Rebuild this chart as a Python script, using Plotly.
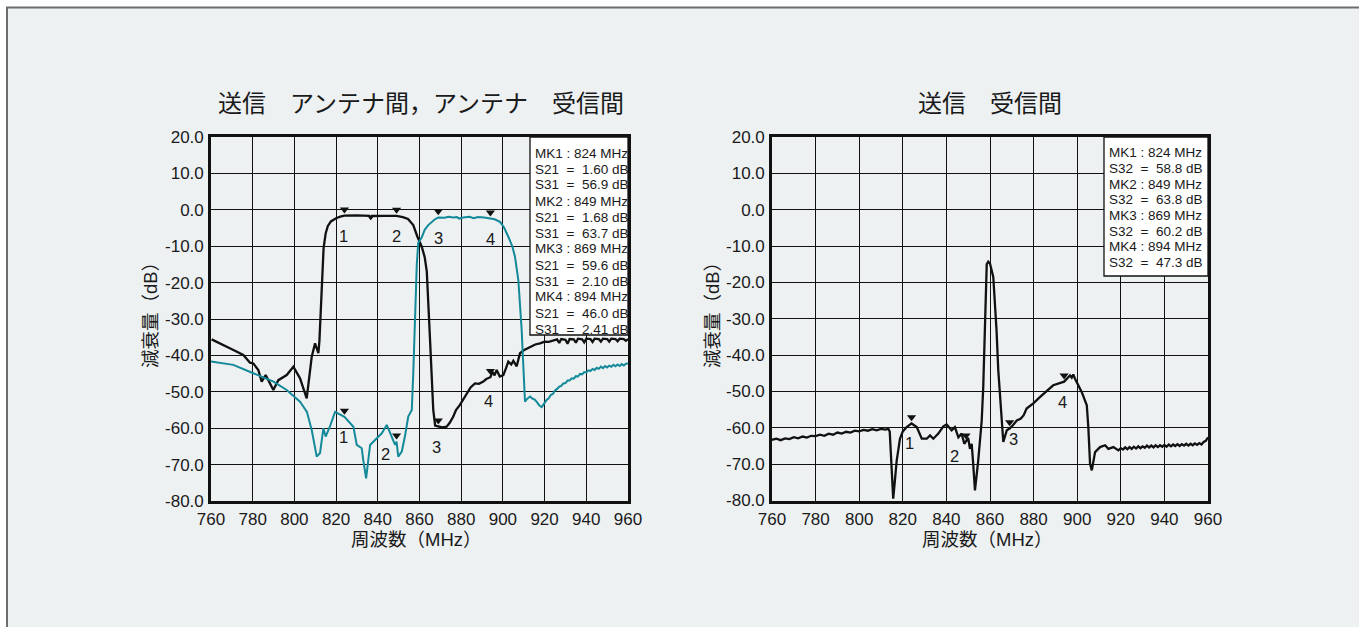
import plotly.graph_objects as go

# ---------------- data ----------------
# Left panel: S21 (transmit -> antenna) and S31 (antenna -> receive), attenuation in dB
s21_freq = [760.3, 765, 770, 775.5, 778.7, 780.3, 782.7, 784.3, 786.2, 787.5, 789.9, 792.3,
            793.9, 796.3, 799.5, 802.7, 805.9, 808.3, 809.9, 811.5, 812.0, 812.5, 813.0, 813.5,
            814.0, 815.0, 816.0, 817.5, 820.0, 822.0, 824.0, 830.0, 836.0, 836.6, 837.2, 843.0,
            849.0, 852.0, 854.5, 857.0, 859.0, 861.0, 862.5, 863.5, 864.3, 865.0, 865.8, 866.6,
            867.5, 869.0, 871.0, 873.0, 874.5, 876.2, 877.5, 879.4, 881.0, 882.6, 884.5, 886.6,
            888.5, 890.6, 892.0, 894.0, 895.0, 896.0, 897.0, 898.5, 900.2, 901.5, 902.6, 904.0,
            905.0, 906.6, 908.2, 910.0, 913.0, 915.5, 917.8, 920.0, 922.0, 924.0, 926.0, 927.0,
            928.0, 930.0, 931.0, 932.0, 934.0, 935.0, 936.0, 938.0, 939.0, 940.0, 942.0, 943.0,
            944.0, 946.0, 947.0, 948.0, 950.0, 951.0, 952.0, 954.0, 955.0, 956.0, 958.0, 959.0,
            960.0]
s21_db = [-35.6, -36.8, -38.3, -39.9, -42.0, -42.2, -44.0, -47.2, -45.4, -46.8, -49.5, -46.8,
          -46.3, -45.4, -43.1, -46.3, -51.8, -40.4, -36.7, -39.4, -36.0, -30.0, -22.0, -15.0,
          -10.5, -6.5, -4.5, -3.2, -2.3, -1.9, -1.60, -1.55, -1.65, -2.2, -1.7, -1.65,
          -1.68, -2.0, -2.5, -4.2, -7.4, -10.0, -13.0, -17.0, -25.0, -35.0, -45.0, -55.0,
          -59.3, -59.6, -59.8, -59.6, -58.5, -56.8, -55.0, -53.6, -52.0, -50.4, -48.8, -47.7,
          -47.8, -47.2, -46.5, -46.0, -44.5, -45.5, -44.0, -45.8, -45.4, -43.5, -41.7, -42.5,
          -41.5, -43.0, -39.4, -38.6, -37.6, -37.0, -36.7, -36.2, -36.3, -35.9, -35.6, -36.6,
          -35.5, -35.7, -36.8, -35.5, -35.6, -36.5, -35.4, -35.6, -36.4, -35.4, -35.5, -36.3,
          -35.4, -35.5, -36.2, -35.4, -35.5, -36.2, -35.4, -35.5, -36.1, -35.4, -35.5, -36.0,
          -35.5]

s31_freq = [760.0, 770.7, 780.3, 790.0, 796.3, 802.7, 806.0, 808.3, 810.7, 812.3, 813.9, 815.0,
            817.0, 819.5, 824.0, 828.3, 829.9, 832.3, 833.0, 834.4, 836.3, 838.7, 841.9, 844.3,
            846.7, 848.3, 849.0, 849.8, 851.5, 853.0, 854.6, 856.3, 857.0, 857.8, 858.7, 859.4,
            861.0, 862.5, 864.2, 867.4, 869.0, 872.0, 874.0, 876.2, 878.0, 879.0, 881.0, 884.0,
            886.0, 888.0, 891.0, 894.0, 896.0, 898.6, 900.5, 902.6, 904.5, 905.8, 907.4, 909.0,
            910.0, 910.6, 911.5, 913.0, 914.0, 915.4, 916.5, 917.5, 918.6, 919.5, 920.3, 921.0,
            922.0, 923.0, 924.0, 925.0, 926.0, 927.0, 928.0, 929.0, 930.0, 931.0, 932.0, 933.0,
            934.0, 935.0, 936.0, 937.0, 938.0, 939.0, 940.0, 941.0, 942.0, 943.0, 944.0, 945.0,
            946.0, 947.0, 948.0, 949.0, 950.0, 951.0, 952.0, 953.0, 954.0, 955.0, 956.0, 957.0,
            958.0, 959.0, 960.0]
s31_db = [-41.7, -42.6, -44.9, -47.2, -49.5, -52.7, -55.5, -60.5, -67.8, -66.8, -60.0, -62.3,
          -59.6, -55.5, -56.9, -59.6, -64.6, -65.5, -68.7, -73.8, -64.6, -63.2, -61.4, -59.1,
          -62.3, -64.6, -63.7, -67.8, -66.4, -62.3, -56.8, -55.0, -45.0, -30.0, -15.0, -9.1,
          -7.7, -5.5, -4.2, -2.6, -2.10, -2.2, -1.9, -2.1, -2.0, -2.4, -2.1, -1.9,
          -2.3, -2.0, -2.1, -2.41, -2.6, -3.3, -4.8, -7.4, -10.0, -12.9, -19.3, -33.0,
          -45.0, -52.7, -52.0, -51.3, -51.8, -52.2, -53.0, -53.8, -54.2, -53.3, -52.6, -52.2,
          -51.8, -50.8, -50.6, -49.6, -49.2, -48.6, -48.4, -47.7, -47.6, -46.9, -46.9, -46.3,
          -46.4, -45.7, -45.8, -45.1, -45.2, -44.6, -44.7, -44.1, -44.3, -43.7, -44.0, -43.4,
          -43.7, -43.1, -43.5, -42.9, -43.3, -42.8, -43.1, -42.6, -43.0, -42.5, -42.9, -42.4,
          -42.8, -42.3, -42.2]

# Right panel: S32 (transmit -> receive)
s32_freq = [760, 762, 764, 766, 768, 770, 772, 774, 776, 778, 780, 782, 784, 786, 788, 790,
            792, 794, 796, 798, 800, 802, 804, 806, 808, 810, 812, 813.4, 814.0, 814.8, 815.6,
            816.3, 817.2, 818.7, 820.0, 821.8, 824.0, 826.4, 828.7, 831.0, 832.5, 834.0, 836.3,
            838.6, 840.1, 842.4, 843.9, 845.5, 847.0, 848.2, 849.0, 850.0, 850.8, 851.6, 852.3,
            853.1, 854.6, 856.2, 856.9, 857.5, 858.0, 858.5, 859.2, 860.0, 861.5, 862.3, 863.0,
            863.8, 865.4, 866.1, 867.7, 869.0, 870.5, 872.3, 874.0, 875.4, 876.8, 880.0, 883.0,
            886.0, 889.0, 894.0, 896.7, 897.5, 898.2, 899.0, 902.1, 904.4, 905.1, 905.9, 906.7,
            908.2, 910.5, 912.8, 914.3, 916.6, 918.9, 920, 921, 922, 923, 924, 925, 926, 927,
            928, 929, 930, 931, 932, 933, 934, 935, 936, 937, 938, 939, 940, 941, 942, 943, 944,
            945, 946, 947, 948, 949, 950, 951, 952, 953, 954, 955, 956, 957, 958, 959, 960]
s32_db = [-63.3, -63.0, -63.4, -62.9, -63.1, -62.6, -62.9, -62.4, -62.7, -62.2, -62.3, -61.9,
          -62.2, -61.6, -61.9, -61.3, -61.6, -61.1, -61.3, -60.8, -61.0, -60.6, -60.8, -60.4,
          -60.7, -60.3, -60.5, -60.3, -61.0, -70.0, -79.5, -75.0, -69.0, -63.0, -61.0, -59.8,
          -58.8, -59.8, -63.0, -63.0, -62.1, -63.0, -61.6, -59.6, -59.1, -60.7, -59.8, -62.6,
          -61.6, -64.4, -63.8, -62.8, -65.8, -64.4, -70.0, -77.2, -69.0, -58.0, -48.8, -33.0,
          -20.3, -15.0, -14.3, -14.8, -18.5, -25.0, -33.2, -44.2, -58.0, -63.9, -60.7, -60.2,
          -59.3, -58.0, -57.5, -56.6, -54.7, -53.2, -51.5, -49.9, -48.3, -47.3, -45.6, -46.2,
          -45.3, -46.5, -50.2, -53.8, -59.8, -69.9, -71.7, -66.7, -65.3, -64.8, -65.8, -65.3,
          -66.2, -65.6, -66.0, -65.4, -65.9, -65.3, -65.8, -65.2, -65.7, -65.1, -65.6, -65.1,
          -65.5, -64.9, -65.4, -64.9, -65.4, -64.8, -65.3, -64.8, -65.2, -64.7, -65.2, -64.6,
          -65.1, -64.6, -65.0, -64.5, -65.0, -64.5, -64.9, -64.4, -64.9, -64.4, -64.8, -64.3,
          -64.7, -64.2, -64.6, -63.9, -63.6, -62.6]

# Marker readouts (frequency in MHz, attenuation in dB)
mk_freq = [824, 849, 869, 894]
mk_s21 = [1.60, 1.68, 59.6, 46.0]
mk_s31 = [56.9, 63.7, 2.10, 2.41]
mk_s32 = [58.8, 63.8, 60.2, 47.3]
ref_mark_freq = [836.6]
ref_mark_db = [-2.2]

x_ticks = [760, 780, 800, 820, 840, 860, 880, 900, 920, 940, 960]
y_ticks = [20, 10, 0, -10, -20, -30, -40, -50, -60, -70, -80]
y_tick_text = ["20.0", "10.0", "0.0", "-10.0", "-20.0", "-30.0", "-40.0",
               "-50.0", "-60.0", "-70.0", "-80.0"]

title_left = "送信　アンテナ間，アンテナ　受信間"
title_right = "送信　受信間"
x_title = "周波数（MHz）"
y_title = "減衰量（dB）"

# ---------------- styles ----------------
W, H = 1359, 627
FONT = "Liberation Sans, Arial, Noto Sans CJK JP, sans-serif"
TXT = "#1a1a1a"
BLACK = "#111111"
TEAL = "#13899a"
PANEL_BG = "#edf1f2"
TRI_OFFSET = 1.7  # dB above the trace


def fx(p):
    return p / W


def fy(p):
    return 1 - p / H


# label shifts (px) for marker numbers: (xshift, yshift)
left_top_shift = {"s21": [(-1, -20), (0, -20)], "s31": [(0, -21), (0, -20)]}
left_bot_shift = {"s31": [(-1, -20), (-11, -12)], "s21": [(-2, -20), (-2, -24)]}
right_shift = [(-2, -20), (-12, -14), (4, -10), (-2, -20)]

fig = go.Figure()

# traces
fig.add_trace(go.Scatter(x=s21_freq, y=s21_db, mode="lines", xaxis="x", yaxis="y",
                         line=dict(color=BLACK, width=2.3), hoverinfo="skip"))
fig.add_trace(go.Scatter(x=s31_freq, y=s31_db, mode="lines", xaxis="x", yaxis="y",
                         line=dict(color=TEAL, width=2.0), hoverinfo="skip"))
fig.add_trace(go.Scatter(x=s32_freq, y=s32_db, mode="lines", xaxis="x2", yaxis="y2",
                         line=dict(color=BLACK, width=2.3), hoverinfo="skip"))

# marker triangles
left_tri_x = mk_freq[:2] + mk_freq[2:] + mk_freq[:2] + mk_freq[2:]
left_tri_y = ([-v + TRI_OFFSET for v in mk_s21[:2]] + [-v + TRI_OFFSET for v in mk_s31[2:]]
              + [-v + TRI_OFFSET for v in mk_s31[:2]] + [-v + TRI_OFFSET for v in mk_s21[2:]])
fig.add_trace(go.Scatter(x=left_tri_x, y=left_tri_y, mode="markers", xaxis="x", yaxis="y",
                         marker=dict(symbol="triangle-down", size=8, color=BLACK),
                         hoverinfo="skip"))
fig.add_trace(go.Scatter(x=ref_mark_freq, y=ref_mark_db, mode="markers", xaxis="x", yaxis="y",
                         marker=dict(symbol="triangle-down", size=5, color=BLACK),
                         hoverinfo="skip"))
fig.add_trace(go.Scatter(x=mk_freq, y=[-v + TRI_OFFSET for v in mk_s32], mode="markers",
                         xaxis="x2", yaxis="y2",
                         marker=dict(symbol="triangle-down", size=8, color=BLACK),
                         hoverinfo="skip"))

annotations = []


def num_label(xref, yref, x, y, n, shift):
    annotations.append(dict(x=x, y=y, xref=xref, yref=yref, text=str(n), showarrow=False,
                            xanchor="center", yanchor="middle", xshift=shift[0],
                            yshift=shift[1], font=dict(family=FONT, size=16.5, color=TXT)))


for i in range(2):
    num_label("x", "y", mk_freq[i], -mk_s21[i], i + 1, left_top_shift["s21"][i])
    num_label("x", "y", mk_freq[i], -mk_s31[i], i + 1, left_bot_shift["s31"][i])
for i in range(2, 4):
    num_label("x", "y", mk_freq[i], -mk_s31[i], i + 1, left_top_shift["s31"][i - 2])
    num_label("x", "y", mk_freq[i], -mk_s21[i], i + 1, left_bot_shift["s21"][i - 2])
for i in range(4):
    num_label("x2", "y2", mk_freq[i], -mk_s32[i], i + 1, right_shift[i])

# readout boxes
left_lines = []
right_lines = []
for i, f in enumerate(mk_freq):
    left_lines += [f"MK{i + 1} : {f} MHz", f"S21  =  {mk_s21[i]:.2f} dB" if mk_s21[i] < 10
                   else f"S21  =  {mk_s21[i]:.1f} dB",
                   f"S31  =  {mk_s31[i]:.2f} dB" if mk_s31[i] < 10
                   else f"S31  =  {mk_s31[i]:.1f} dB"]
    right_lines += [f"MK{i + 1} : {f} MHz", f"S32  =  {mk_s32[i]:.1f} dB"]

shapes = [
    # page panel
    dict(type="rect", xref="paper", yref="paper", x0=fx(7), x1=fx(W + 20), y0=fy(H + 20),
         y1=fy(7.5), fillcolor=PANEL_BG, line=dict(color="#6d6d6d", width=2), layer="below"),
    dict(type="rect", xref="paper", yref="paper", x0=fx(530), x1=fx(628), y0=fy(335),
         y1=fy(137), fillcolor="white", line=dict(color=BLACK, width=1.3), layer="above"),
    dict(type="rect", xref="paper", yref="paper", x0=fx(1104), x1=fx(1208), y0=fy(276),
         y1=fy(137), fillcolor="white", line=dict(color=BLACK, width=1.3), layer="above"),
]

for k, t in enumerate(left_lines):
    annotations.append(dict(x=fx(532.5), y=fy(153 + 16 * k), xref="paper", yref="paper",
                            text=t, showarrow=False, xanchor="left", yanchor="middle",
                            font=dict(family=FONT, size=13.5, color=TXT)))
for k, t in enumerate(right_lines):
    annotations.append(dict(x=fx(1106.5), y=fy(152.7 + 15.7 * k), xref="paper", yref="paper",
                            text=t, showarrow=False, xanchor="left", yanchor="middle",
                            font=dict(family=FONT, size=13.5, color=TXT)))

# titles and axis titles
for cx, ttl in [(421, title_left), (990, title_right)]:
    annotations.append(dict(x=fx(cx), y=fy(103), xref="paper", yref="paper", text=ttl,
                            showarrow=False, xanchor="center", yanchor="middle",
                            font=dict(family=FONT, size=24, color=TXT)))
for cx in [416, 987]:
    annotations.append(dict(x=fx(cx), y=fy(539), xref="paper", yref="paper", text=x_title,
                            showarrow=False, xanchor="center", yanchor="middle",
                            font=dict(family=FONT, size=18.5, color=TXT)))
for cx in [150, 712]:
    annotations.append(dict(x=fx(cx), y=fy(311), xref="paper", yref="paper", text=y_title,
                            showarrow=False, xanchor="center", yanchor="middle",
                            textangle=-90, font=dict(family=FONT, size=18.5, color=TXT)))

axis_common = dict(showgrid=True, gridcolor=BLACK, gridwidth=1.4, zeroline=False,
                   showline=True, linecolor=BLACK, linewidth=2.6, mirror=True, ticks="",
                   tickfont=dict(family=FONT, size=17, color=TXT), fixedrange=True)

fig.update_layout(
    width=W, height=H,
    margin=dict(l=0, r=0, t=0, b=0, autoexpand=False),
    paper_bgcolor="white", plot_bgcolor="white",
    showlegend=False,
    xaxis=dict(domain=[fx(211), fx(628)], range=[760, 960], tickvals=x_ticks,
               anchor="y", ticklabelstandoff=1, **axis_common),
    yaxis=dict(domain=[fy(501), fy(137)], range=[-80, 20], tickvals=y_ticks,
               ticktext=y_tick_text, anchor="x", ticklabelstandoff=1, **axis_common),
    xaxis2=dict(domain=[fx(772), fx(1208)], range=[760, 960], tickvals=x_ticks,
                anchor="y2", ticklabelstandoff=1, **axis_common),
    yaxis2=dict(domain=[fy(500.5), fy(137)], range=[-80, 20], tickvals=y_ticks,
                ticktext=y_tick_text, anchor="x2", ticklabelstandoff=1, **axis_common),
    shapes=shapes,
    annotations=annotations,
)

fig.write_html("out.html")
